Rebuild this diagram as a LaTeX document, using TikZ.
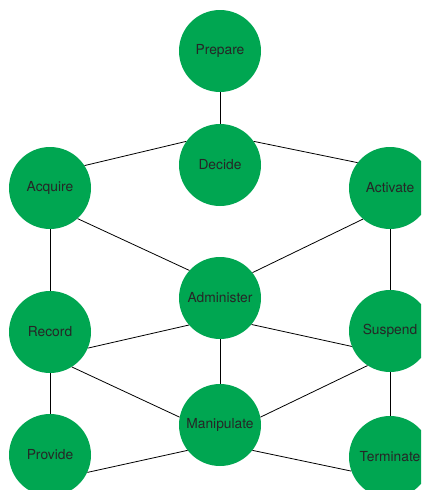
\documentclass[tikz,border=0pt]{standalone}
\usepackage{fontspec}
\setmainfont{TeX Gyre Heros}
\usepackage{xcolor}
\definecolor{leaf}{RGB}{0,166,81}

\tikzset{
  phase/.style={circle, fill=leaf, minimum size=82pt, inner sep=0pt,
    font=\fontsize{13.8}{16}\selectfont, text=black!85},
  link/.style={black, line width=0.8pt}
}

\begin{document}
\begin{tikzpicture}[x=1pt, y=-1pt]
    \useasboundingbox (0,0) rectangle (421,490);
    \clip (0,0) rectangle (421,490);

    \node[phase] (prepare) at (220,51) {Prepare};
    \node[phase] (decide) at (220,165) {Decide};
    \node[phase] (acquire) at (50,188) {Acquire};
    \node[phase] (activate) at (390,188) {Activate};
    \node[phase] (administer) at (220,298) {Administer};
    \node[phase] (record) at (50,332) {Record};
    \node[phase] (suspend) at (390,331) {Suspend};
    \node[phase] (manipulate) at (220,425) {Manipulate};
    \node[phase] (provide) at (50,455) {Provide};
    \node[phase] (terminate) at (390,457) {Terminate};

    % vertical links
    \draw[link] (prepare) -- (decide);
    \draw[link] (acquire) -- (record);
    \draw[link] (record) -- (provide);
    \draw[link] (activate.south) -- (suspend.north);
    \draw[link] (suspend.south) -- (terminate.north);
    \draw[link] (administer) -- (manipulate);

    % slanted links
    \draw[link] (decide.145) -- (acquire.33);
    \draw[link] (decide.35) -- (activate.142);
    \draw[link] (acquire.-48) -- (administer.138);
    \draw[link] (activate.-131) -- (administer.38);
    \draw[link] (administer.221) -- (record.-23);
    \draw[link] (administer.-40) -- (suspend.202);
    \draw[link] (record.-58) -- (manipulate.169);
    \draw[link] (suspend.-123) -- (manipulate.11);
    \draw[link] (manipulate.218) -- (provide.-25);
    \draw[link] (manipulate.-38) -- (terminate.200);
  \end{tikzpicture}
\end{document}
